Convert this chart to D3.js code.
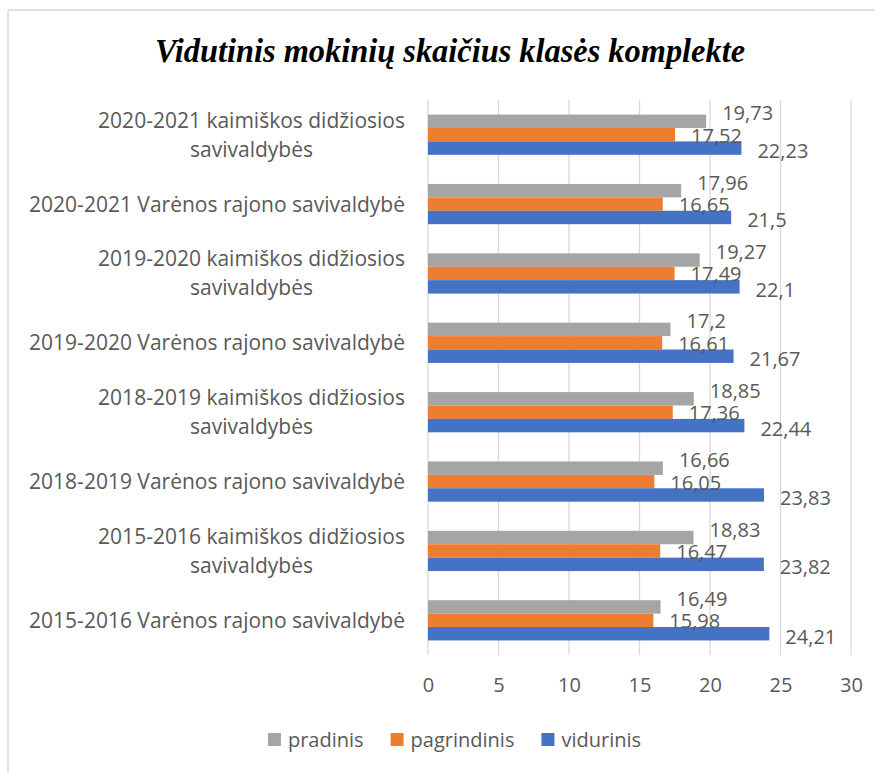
<!DOCTYPE html>
<html>
<head>
<meta charset="utf-8">
<script src="https://cdn.jsdelivr.net/npm/d3@7"></script>
<style>
  html, body { margin: 0; padding: 0; background: #fff; }
  svg { display: block; }
</style>
</head>
<body>
<svg id="chart" width="875" height="773"></svg>
<script>
// ---- DATA ----
const title = "Vidutinis mokinių skaičius klasės komplekte";
const categories = [
  ["2020-2021 kaimiškos didžiosios", "savivaldybės"],
  ["2020-2021 Varėnos rajono savivaldybė"],
  ["2019-2020 kaimiškos didžiosios", "savivaldybės"],
  ["2019-2020 Varėnos rajono savivaldybė"],
  ["2018-2019 kaimiškos didžiosios", "savivaldybės"],
  ["2018-2019 Varėnos rajono savivaldybė"],
  ["2015-2016 kaimiškos didžiosios", "savivaldybės"],
  ["2015-2016 Varėnos rajono savivaldybė"]
];
const seriesNames = ["pradinis", "pagrindinis", "vidurinis"];
const pradinis    = [19.73, 17.96, 19.27, 17.2, 18.85, 16.66, 18.83, 16.49];
const pagrindinis = [17.52, 16.65, 17.49, 16.61, 17.36, 16.05, 16.47, 15.98];
const vidurinis   = [22.23, 21.5, 22.1, 21.67, 22.44, 23.83, 23.82, 24.21];
const xTicks = [0, 5, 10, 15, 20, 25, 30];
const colors = ["#A5A5A5", "#ED7D31", "#4472C4"];

// ---- LAYOUT ----
const svg = d3.select("#chart");
const textColor = "#595959";
const font = "'Open Sans', 'Noto Sans', sans-serif";
const fs = 20;
const catFs = 21;

// outer chart border (top and left visible)
svg.append("line").attr("x1", 8).attr("x2", 875).attr("y1", 10).attr("y2", 10)
  .attr("stroke", "#d9d9d9").attr("stroke-width", 1.5);
svg.append("line").attr("x1", 8).attr("x2", 8).attr("y1", 10).attr("y2", 773)
  .attr("stroke", "#d9d9d9").attr("stroke-width", 1.5);

// title
svg.append("text")
  .attr("x", 450).attr("y", 62)
  .attr("text-anchor", "middle")
  .attr("font-family", "'Liberation Serif', 'DejaVu Serif', serif")
  .attr("font-weight", "bold").attr("font-style", "italic")
  .attr("font-size", 34)
  .attr("textLength", 590).attr("lengthAdjust", "spacingAndGlyphs")
  .attr("fill", "#000")
  .text(title);

const x = d3.scaleLinear().domain([0, 30]).range([428, 851]);
const idx = d3.range(categories.length);
const y = d3.scaleBand().domain(idx).range([100, 655])
  .paddingInner(0.42).paddingOuter(0.21);
const ySub = d3.scaleBand().domain(d3.range(seriesNames.length)).range([0, y.bandwidth()]);

// gridlines
svg.append("g").selectAll("line").data(xTicks).join("line")
  .attr("x1", d => x(d)).attr("x2", d => x(d))
  .attr("y1", 100).attr("y2", 655)
  .attr("stroke", "#d9d9d9").attr("stroke-width", 1.3);

// x axis tick labels
const xAxis = d3.axisBottom(x).tickValues(xTicks).tickSize(0).tickPadding(0).tickFormat(d => d);
const gx = svg.append("g").attr("transform", "translate(0,678)").call(xAxis);
gx.select(".domain").remove();
gx.selectAll("text").attr("font-family", font).attr("font-size", fs).attr("fill", textColor);

// bars
const seriesData = [pradinis, pagrindinis, vidurinis];
const fmt = v => String(v).replace(".", ",");
const labelDy = [-8, 1, 3];

seriesData.forEach((vals, s) => {
  svg.append("g").selectAll("rect").data(vals).join("rect")
    .attr("x", x(0))
    .attr("y", (d, i) => y(i) + ySub(s))
    .attr("width", d => x(d) - x(0))
    .attr("height", ySub.bandwidth())
    .attr("fill", colors[s]);
});
seriesData.forEach((vals, s) => {
  svg.append("g").selectAll("text").data(vals).join("text")
    .attr("x", d => x(d) + 16)
    .attr("y", (d, i) => y(i) + ySub(s) + ySub.bandwidth() / 2 + 7 + labelDy[s])
    .attr("font-family", font).attr("font-size", fs).attr("fill", textColor)
    .text(d => fmt(d));
});

// category labels
const catRight = 405;
const lineH = 29;
const gc = svg.append("g");
categories.forEach((lines, i) => {
  const cy = y(i) + y.bandwidth() / 2;
  const t = gc.append("text")
    .attr("font-family", font).attr("font-size", catFs).attr("fill", textColor)
    .attr("text-anchor", "middle");
  const spans = lines.map((ln, k) => t.append("tspan").text(ln));
  const maxW = d3.max(spans, sp => sp.node().getComputedTextLength());
  const cx = catRight - maxW / 2;
  const n = lines.length;
  spans.forEach((sp, k) => {
    sp.attr("x", cx).attr("y", cy + 7.5 + (k - (n - 1) / 2) * lineH);
  });
});

// legend
const lg = svg.append("g");
const items = seriesNames.map((name, s) => {
  const g = lg.append("g");
  g.append("rect").attr("width", 13).attr("height", 13).attr("y", 733).attr("fill", colors[s]);
  const t = g.append("text").attr("x", 20).attr("y", 747)
    .attr("font-family", font).attr("font-size", fs).attr("fill", textColor).text(name);
  return { g, w: 20 + t.node().getComputedTextLength() };
});
const gap = 27;
const total = d3.sum(items, d => d.w) + gap * (items.length - 1);
let cur = 454.5 - total / 2;
items.forEach(it => { it.g.attr("transform", `translate(${cur},0)`); cur += it.w + gap; });
</script>
</body>
</html>
